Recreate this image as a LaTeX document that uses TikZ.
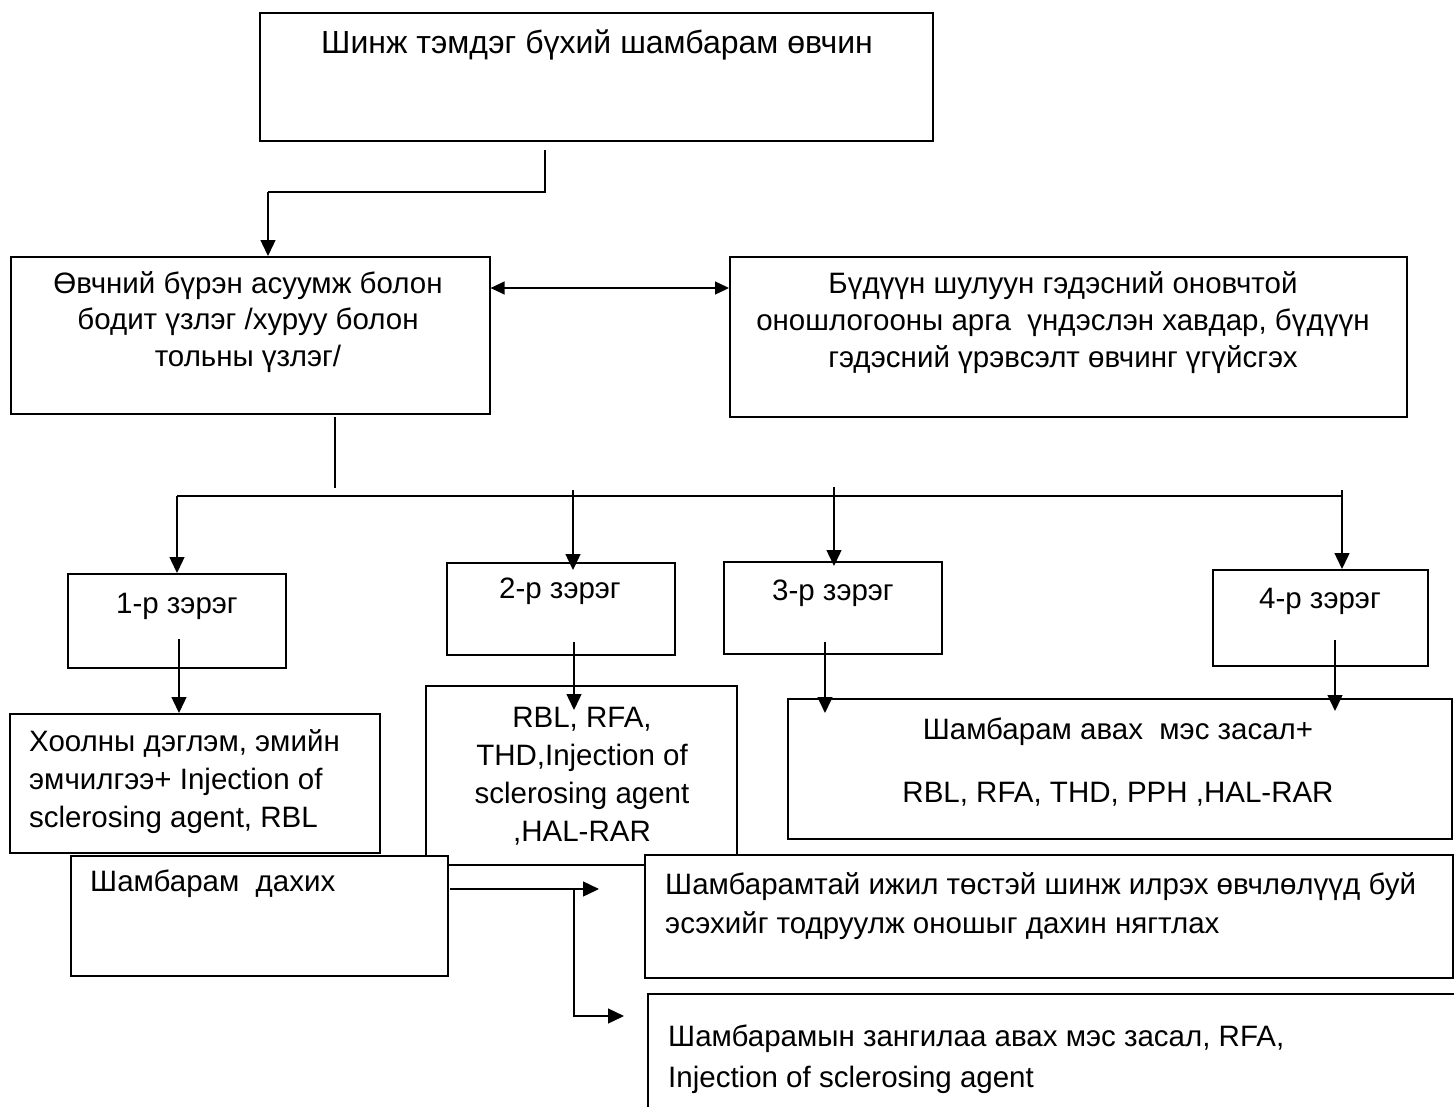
\documentclass[tikz,border=0pt]{standalone}
\usepackage{fontspec}
\setmainfont{Liberation Sans}
\usetikzlibrary{arrows.meta}

\tikzset{
  box/.style={draw, fill=white, line width=1.6pt, inner sep=0pt, anchor=north west},
  txt/.style={inner sep=0pt, align=center, font=\fontsize{29.5}{37}\selectfont},
  conn/.style={line width=1.4pt},
  arr/.style={line width=1.4pt, -{Triangle[length=16pt,width=15pt]}},
  darr/.style={line width=1.4pt, {Triangle[length=14pt,width=13pt]}-{Triangle[length=14pt,width=13pt]}}
}

\begin{document}
\begin{tikzpicture}[x=1pt, y=-1pt]

\fill[white] (0,0) rectangle (1454,1106);
\useasboundingbox (0,0) rectangle (1454,1106);
\clip (0,0) rectangle (1454,1106);

\node[box, minimum width=673, minimum height=128] (sympt) at (259,12) {};
\node[txt, font=\fontsize{32}{37}\selectfont] (sympt-t) at (597,45) {Шинж тэмдэг бүхий шамбарам өвчин};

\node[box, minimum width=479, minimum height=157] (hist) at (10,256) {};
\node[txt, font=\fontsize{29.5}{36.5}\selectfont] (hist-t) at (248,322)
  {Өвчний бүрэн асуумж болон\\бодит үзлэг /хуруу болон\\тольны үзлэг/};

\node[box, minimum width=677, minimum height=160] (excl) at (729,256) {};
\node[txt] (excl-t) at (1063,323)
  {Бүдүүн шулуун гэдэсний оновчтой\\оношлогооны арга\ \ үндэслэн хавдар, бүдүүн\\гэдэсний үрэвсэлт өвчинг үгүйсгэх};

\node[box, minimum width=218, minimum height=94] (g1) at (67,573) {};
\node[txt] (g1-t) at (177,606) {1-р зэрэг};
\node[box, minimum width=228, minimum height=92] (g2) at (446,562) {};
\node[txt] (g2-t) at (560,591) {2-р зэрэг};
\node[box, minimum width=218, minimum height=92] (g3) at (723,561) {};
\node[txt] (g3-t) at (833,593) {3-р зэрэг};
\node[box, minimum width=215, minimum height=96] (g4) at (1212,569) {};
\node[txt] (g4-t) at (1320,601) {4-р зэрэг};

\node[box, minimum width=370, minimum height=139] (t1) at (9,713) {};
\node[txt, align=left, anchor=west, font=\fontsize{29.5}{38}\selectfont] (t1-t) at (29,782)
  {Хоолны дэглэм, эмийн\\эмчилгээ+ Injection of\\sclerosing agent, RBL};

\node[box, minimum width=311, minimum height=179] (t2) at (425,685) {};
\node[txt, font=\fontsize{29.5}{38}\selectfont] (t2-t) at (582,776)
  {RBL, RFA,\\THD,Injection of\\sclerosing agent\\,HAL-RAR};

\node[box, minimum width=664, minimum height=140] (t34) at (787,698) {};
\node[txt, font=\fontsize{29.5}{63}\selectfont] (t34-t) at (1118,762)
  {Шамбарам авах\ \ мэс засал+\\RBL, RFA, THD, PPH ,HAL-RAR};

\node[box, minimum width=377, minimum height=120] (relapse) at (70,855) {};
\node[txt, anchor=west] (relapse-t) at (90,884) {Шамбарам\ \ дахих};

\node[box, minimum width=808, minimum height=123] (recheck) at (644,854) {};
\node[txt, align=left, anchor=west, font=\fontsize{29.5}{38.5}\selectfont] (recheck-t) at (665,906)
  {Шамбарамтай ижил төстэй шинж илрэх өвчлөлүүд буй\\эсэхийг тодруулж оношыг дахин нягтлах};

\node[box, minimum width=900, minimum height=200] (nodule) at (647,993) {};
\node[txt, align=left, anchor=west, font=\fontsize{29.5}{40.5}\selectfont] (nodule-t) at (668,1059)
  {Шамбарамын зангилаа авах мэс засал, RFA,\\Injection of sclerosing agent};

\coordinate (j0) at (545,150);
\coordinate (j1) at (545,192);
\coordinate (j2) at (268,192);
\draw[conn] (j0) -- (j1) -- (j2);
\draw[arr] (j2) -- (j2 |- hist.north);

\coordinate (d) at (0,288);
\draw[darr] (hist.east |- d) -- (excl.west |- d);

\coordinate (b0) at (335,417);
\coordinate (b1) at (335,488);
\coordinate (bl) at (177,496);
\coordinate (br) at (1342,496);
\draw[conn] (b0) -- (b1);
\draw[conn, line width=1.8pt] (bl) -- (br);

\coordinate (a2) at (573,490);
\coordinate (a3) at (834,487);
\coordinate (a4) at (1342,490);
\draw[arr] (bl) -- (bl |- g1.north);
\draw[arr, shorten >=-8pt] (a2) -- (a2 |- g2.north);
\draw[arr, shorten >=-5pt] (a3) -- (a3 |- g3.north);
\draw[arr] (a4) -- (a4 |- g4.north);

\coordinate (s1) at (179,639);
\coordinate (s2) at (574,642);
\coordinate (s3) at (825,642);
\coordinate (s4) at (1335,640);
\draw[arr] (s1) -- (s1 |- t1.north);
\draw[arr, shorten >=-25pt] (s2) -- (s2 |- t2.north);
\draw[arr, shorten >=-15pt] (s3) -- (s3 |- t34.north);
\draw[arr, shorten >=-13pt] (s4) -- (s4 |- t34.north);

\coordinate (r0) at (450,889);
\coordinate (r2) at (574,889);
\coordinate (r3) at (574,1016);
\draw[arr, shorten >=45pt] (r0) -- (recheck.west |- r0);
\draw[arr, shorten >=23pt] (r2) -- (r3) -- (nodule.west |- r3);

\end{tikzpicture}
\end{document}
